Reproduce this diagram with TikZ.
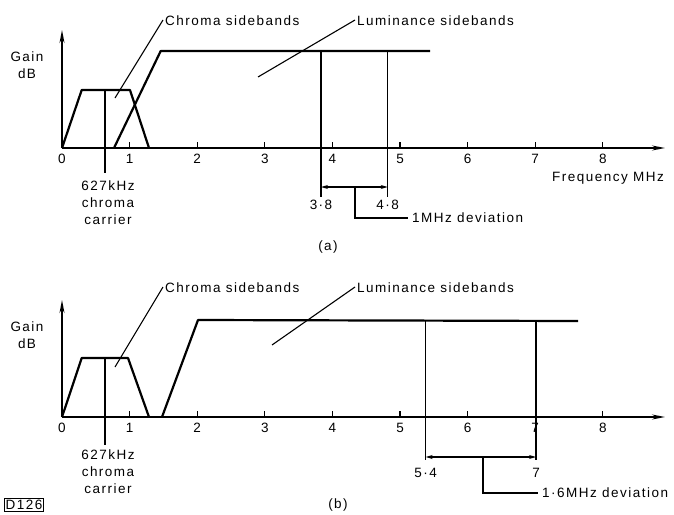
\documentclass[tikz,border=0pt]{standalone}
\usepackage{fontspec}
\setmainfont{Liberation Sans}[LetterSpace=11]
\usetikzlibrary{arrows.meta}
\begin{document}
\begin{tikzpicture}[x=1pt,y=-1pt,
  lbl/.style={font=\fontsize{13.5}{17}\selectfont, inner sep=0pt},
  curve/.style={line width=2.2pt, line join=round},
  fine/.style={line width=1.1pt},
  axis/.style={line width=1.5pt, -{Stealth[length=13pt,width=5pt]}},
  dev/.style={line width=1.1pt, {Stealth[length=7pt,width=4pt]}-{Stealth[length=7pt,width=4pt]}},
  tickmark/.style={line width=1.1pt},
]
\useasboundingbox (0,0) rectangle (674,514);
\fill[white] (0,0) rectangle (674,514);

% ================= (a) =================
\coordinate (aO) at (62,148);
\coordinate (aYt) at (62,30);
\coordinate (aXt) at (665,148);
\draw[axis] (aO) -- (aYt);
\draw[axis] (aO) -- (aXt);
\foreach \k in {1,...,8} {
  \coordinate (aT\k) at ({62+67.6*\k},148);
  \draw[tickmark] (aT\k) -- ++(0,-6);
  \node[lbl] (aN\k) at ({62+67.6*\k},159) {\k};
}
\node[lbl] (aN0) at (62,159) {0};
\node[lbl, align=center] (again) at (27,65) {Gain\\dB};
\node[lbl, anchor=east] (afreq) at (664,178) {Frequency MHz};

% chroma
\coordinate (ac1) at (81.7,90);
\coordinate (ac2) at (130,90);
\coordinate (ac3) at (149,148);
\draw[curve] (aO) -- (ac1) -- (ac2) -- (ac3);
\coordinate (acarT) at (105,90);
\coordinate (acarB) at (105,173);
\draw[fine] (acarT) -- (acarB);
\node[lbl, align=center] (acar) at (108,203) {627kHz\\chroma\\carrier};

% luminance
\coordinate (al0) at (114,148);
\coordinate (al1) at (160.7,51);
\coordinate (al2) at (430,51);
\draw[curve] (al0) -- (al1) -- (al2);
\coordinate (av1T) at (321,51);
\coordinate (av1B) at (321,197);
\coordinate (av2T) at (387.7,51);
\coordinate (av2B) at (387.7,197);
\draw[fine] (av1T) -- (av1B);
\draw[fine] (av2T) -- (av2B);
\coordinate (ad1) at (321,187);
\coordinate (ad2) at (387.7,187);
\draw[dev] (ad1) -- (ad2);
\node[lbl] (a38) at (321,205) {3·8};
\node[lbl] (a48) at (387.7,205) {4·8};
\coordinate (aleadS) at (355,187);
\node[lbl, anchor=west] (adevtxt) at (412,218) {1MHz deviation};
\draw[fine] (aleadS) |- ([xshift=-4pt]adevtxt.west);

\node[lbl] (alabA) at (328,247) {(a)};

% labels
\node[lbl, anchor=west] (achroma) at (165,21) {Chroma sidebands};
\coordinate (achP) at (115,98);
\draw[fine] ([xshift=-2pt,yshift=1pt]achroma.west) -- (achP);
\node[lbl, anchor=west] (alum) at (357,21) {Luminance sidebands};
\coordinate (alP) at (258,77);
\draw[fine] ([xshift=-2pt,yshift=1pt]alum.west) -- (alP);

% ================= (b) =================
\coordinate (bO) at (62,417);
\coordinate (bYt) at (62,300);
\coordinate (bXt) at (665,417);
\draw[axis] (bO) -- (bYt);
\draw[axis] (bO) -- (bXt);
\foreach \k in {1,...,8} {
  \coordinate (bT\k) at ({62+67.6*\k},417);
  \draw[tickmark] (bT\k) -- ++(0,-6);
  \node[lbl] (bN\k) at ({62+67.6*\k},428) {\k};
}
\node[lbl] (bN0) at (62,428) {0};
\node[lbl, align=center] (bgain) at (27,335) {Gain\\dB};

% chroma
\coordinate (bc1) at (81.7,358);
\coordinate (bc2) at (128,358);
\coordinate (bc3) at (149,417);
\draw[curve] (bO) -- (bc1) -- (bc2) -- (bc3);
\coordinate (bcarT) at (105,358);
\coordinate (bcarB) at (105,445);
\draw[fine] (bcarT) -- (bcarB);
\node[lbl, align=center] (bcar) at (108,472) {627kHz\\chroma\\carrier};

% luminance
\coordinate (bl0) at (162,417);
\coordinate (bl1) at (198,320);
\coordinate (bl2) at (578,321);
\draw[curve] (bl0) -- (bl1) -- (bl2);
\coordinate (bv1T) at (425.7,320);
\coordinate (bv1B) at (425.7,460);
\coordinate (bv2T) at (536,320);
\coordinate (bv2B) at (536,460);
\draw[fine] (bv1T) -- (bv1B);
\draw[fine] (bv2T) -- (bv2B);
\coordinate (bd1) at (425.7,457);
\coordinate (bd2) at (536,457);
\draw[dev] (bd1) -- (bd2);
\node[lbl] (b54) at (425.7,473) {5·4};
\node[lbl] (b7) at (536,473) {7};
\coordinate (bleadS) at (483,457);
\node[lbl, anchor=west] (bdevtxt) at (542,493) {1·6MHz deviation};
\draw[fine] (bleadS) |- ([xshift=-4pt]bdevtxt.west);

\node[lbl] (blabB) at (338,505) {(b)};
\node[lbl, draw, line width=0.9pt, inner sep=1.5pt] (bcode) at (24,505) {D126};

% labels
\node[lbl, anchor=west] (bchroma) at (165,288) {Chroma sidebands};
\coordinate (bchP) at (115,367);
\draw[fine] ([xshift=-2pt,yshift=1pt]bchroma.west) -- (bchP);
\node[lbl, anchor=west] (blum) at (357,288) {Luminance sidebands};
\coordinate (blP) at (272,345);
\draw[fine] ([xshift=-2pt,yshift=1pt]blum.west) -- (blP);
\end{tikzpicture}
\end{document}
